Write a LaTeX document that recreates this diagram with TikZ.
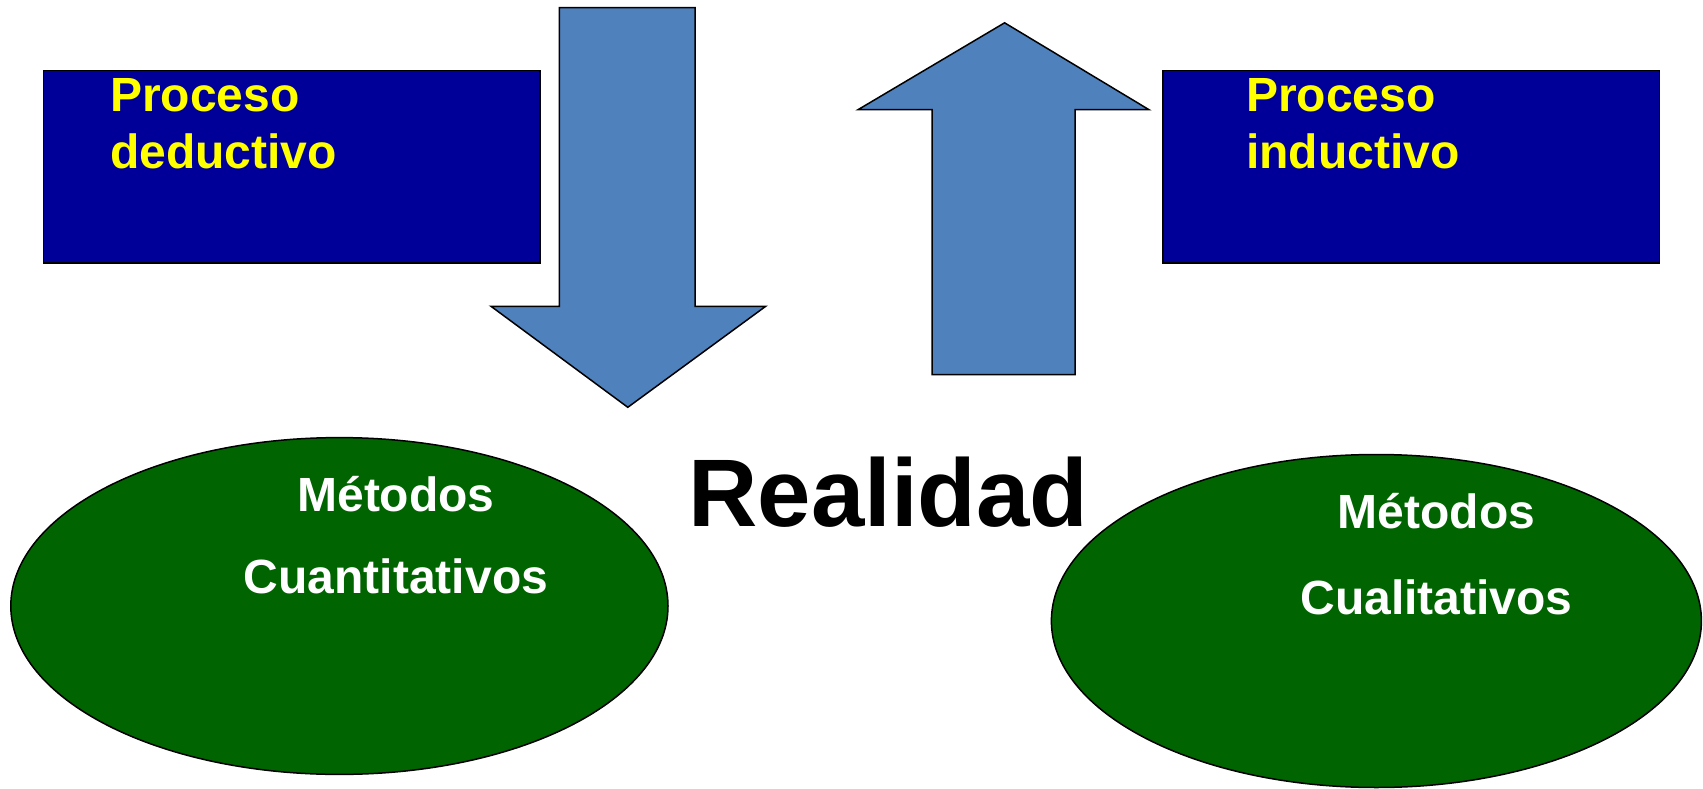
\documentclass[tikz,border=0pt]{standalone}
\usepackage{fontspec}
\setmainfont{Liberation Sans}
\definecolor{boxblue}{RGB}{0,0,153}
\definecolor{arrowblue}{RGB}{79,129,189}
\definecolor{ovalgreen}{RGB}{0,100,0}
\definecolor{txtyellow}{RGB}{255,255,0}
\begin{document}
\begin{tikzpicture}[x=1pt,y=-1pt,
  boxst/.style={draw=black,line width=1.5pt,fill=boxblue},
  arrowst/.style={draw=black,line width=1.5pt,fill=arrowblue,line join=miter},
  ovalst/.style={draw=black,line width=1.5pt,fill=ovalgreen},
  yeltxt/.style={inner sep=0pt,anchor=base west,text=txtyellow,font=\bfseries\fontsize{48}{56}\selectfont},
  whtxt/.style={inner sep=0pt,anchor=base,text=white,font=\bfseries\fontsize{48}{56}\selectfont},
  bigtxt/.style={inner sep=0pt,anchor=base,text=black,font=\bfseries\fontsize{96}{110}\selectfont}]
\useasboundingbox (0,0) rectangle (1703,789);
% boxes
\draw[boxst] (43.4,70.6) rectangle (539.8,262.8);
\coordinate (boxL) at (43.4,70.6);
\draw[boxst] (1163,70.6) rectangle (1659.6,262.8);
\coordinate (boxR) at (1163,70.6);
% down arrow
\draw[arrowst] (559.3,7.6) -- (695.1,7.6) -- (695.1,306.3) -- (765.7,306.3) -- (627.8,407.3) -- (491,306.3) -- (559.3,306.3) -- cycle;
% up arrow
\draw[arrowst] (1004.6,22.8) -- (1149,109.7) -- (1075.2,109.7) -- (1075.2,374.7) -- (932,374.7) -- (932,109.7) -- (858,109.7) -- cycle;
% ellipses
\draw[ovalst] (339.4,606) ellipse [x radius=328.6, y radius=168.4];
\draw[ovalst] (1376.4,621) ellipse [x radius=325, y radius=166.5];
% texts
\node[yeltxt] (pd1) at (110,111.7) {Proceso};
\node[yeltxt] (pd2) at (110,168.3) {deductivo};
\node[yeltxt] (pi1) at (1246,111.7) {Proceso};
\node[yeltxt] (pi2) at (1246,168.3) {inductivo};
\node[whtxt] (mq1) at (396,511.7) {Métodos};
\node[whtxt] (mq2) at (396,593.3) {Cuantitativos};
\node[whtxt] (ml1) at (1436.5,528.3) {Métodos};
\node[whtxt] (ml2) at (1436.5,614) {Cualitativos};
\node[bigtxt] (real) at (888.4,526.7) {Realidad};
\end{tikzpicture}
\end{document}
